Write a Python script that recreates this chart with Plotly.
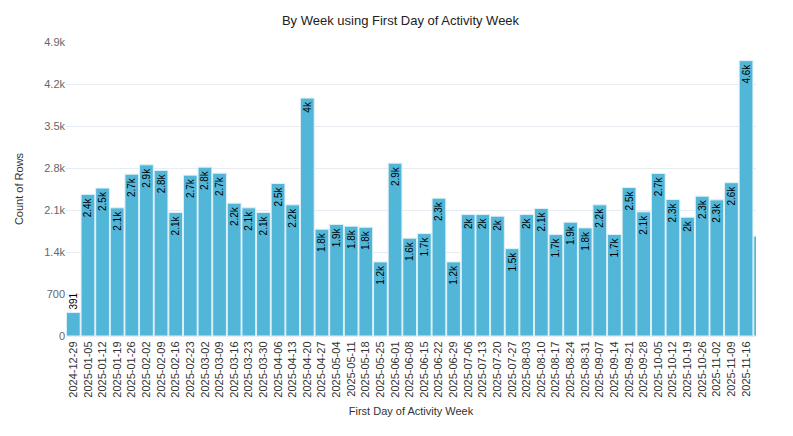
import plotly.graph_objects as go
import pandas as pd

# weekly counts, first day of activity week
weeks = pd.date_range("2024-12-29", periods=48, freq="7D").strftime("%Y-%m-%d").tolist()
counts = [391, 2360, 2465, 2136, 2697, 2853, 2760, 2058, 2681, 2814,
          2714, 2214, 2136, 2058, 2542, 2186, 3965, 1780, 1860, 1830,
          1813, 1235, 2881, 1630, 1707, 2297, 1235, 2024, 2024, 1997,
          1455, 2024, 2125, 1691, 1897, 1802, 2186, 1691, 2475, 2069,
          2709, 2275, 1980, 2330, 2269, 2555, 4589, 1663]

y_ticks = [0, 700, 1400, 2100, 2800, 3500, 4200, 4900]
y_labels = ["0", "700", "1.4k", "2.1k", "2.8k", "3.5k", "4.2k", "4.9k"]


def fmt(v):
    if v < 1000:
        return str(v)
    s = f"{v/1000:.1f}".rstrip("0").rstrip(".")
    return s + "k"


labels = [fmt(v) for v in counts]
positions = ["outside" if v < 1000 else "inside" for v in counts]

fig = go.Figure(go.Bar(
    x=weeks, y=counts,
    text=labels, textposition=positions,
    textangle=-90, insidetextanchor="end",
    constraintext="none", cliponaxis=False,
    textfont=dict(size=10, color="#000000"),
    marker=dict(color="#52b6d9", line=dict(color="#dff0f7", width=1)),
))

# page body has an 8px margin, so the figure is a bit smaller than the window
fig.update_layout(
    width=785, height=428,
    margin=dict(l=58, r=37, t=34, b=100),
    paper_bgcolor="white", plot_bgcolor="white",
    font=dict(family="Liberation Sans, Arial, sans-serif", color="#333"),
    title=dict(text="By Week using First Day of Activity Week", x=0.5, xanchor="center",
               y=0.972, yanchor="middle", font=dict(size=13, color="#222")),
    bargap=0.06,
    showlegend=False,
)
fig.update_xaxes(
    type="category", range=[-0.5, 46.68],
    tickmode="array", tickvals=weeks[:47], ticktext=weeks[:47],
    tickangle=-90, tickfont=dict(size=11, color="#333"),
    showgrid=False, showline=True, linecolor="#e6ecf2", ticks="",
    title=dict(text="First Day of Activity Week", font=dict(size=11, color="#333"), standoff=10),
)
fig.update_yaxes(
    range=[0, 4900], tickmode="array", tickvals=y_ticks, ticktext=y_labels,
    tickfont=dict(size=11, color="#666"),
    showgrid=True, gridcolor="#e6ecf2", zeroline=False,
    title=dict(text="Count of Rows", font=dict(size=11, color="#333"), standoff=18),
)

fig.write_html("out.html")
